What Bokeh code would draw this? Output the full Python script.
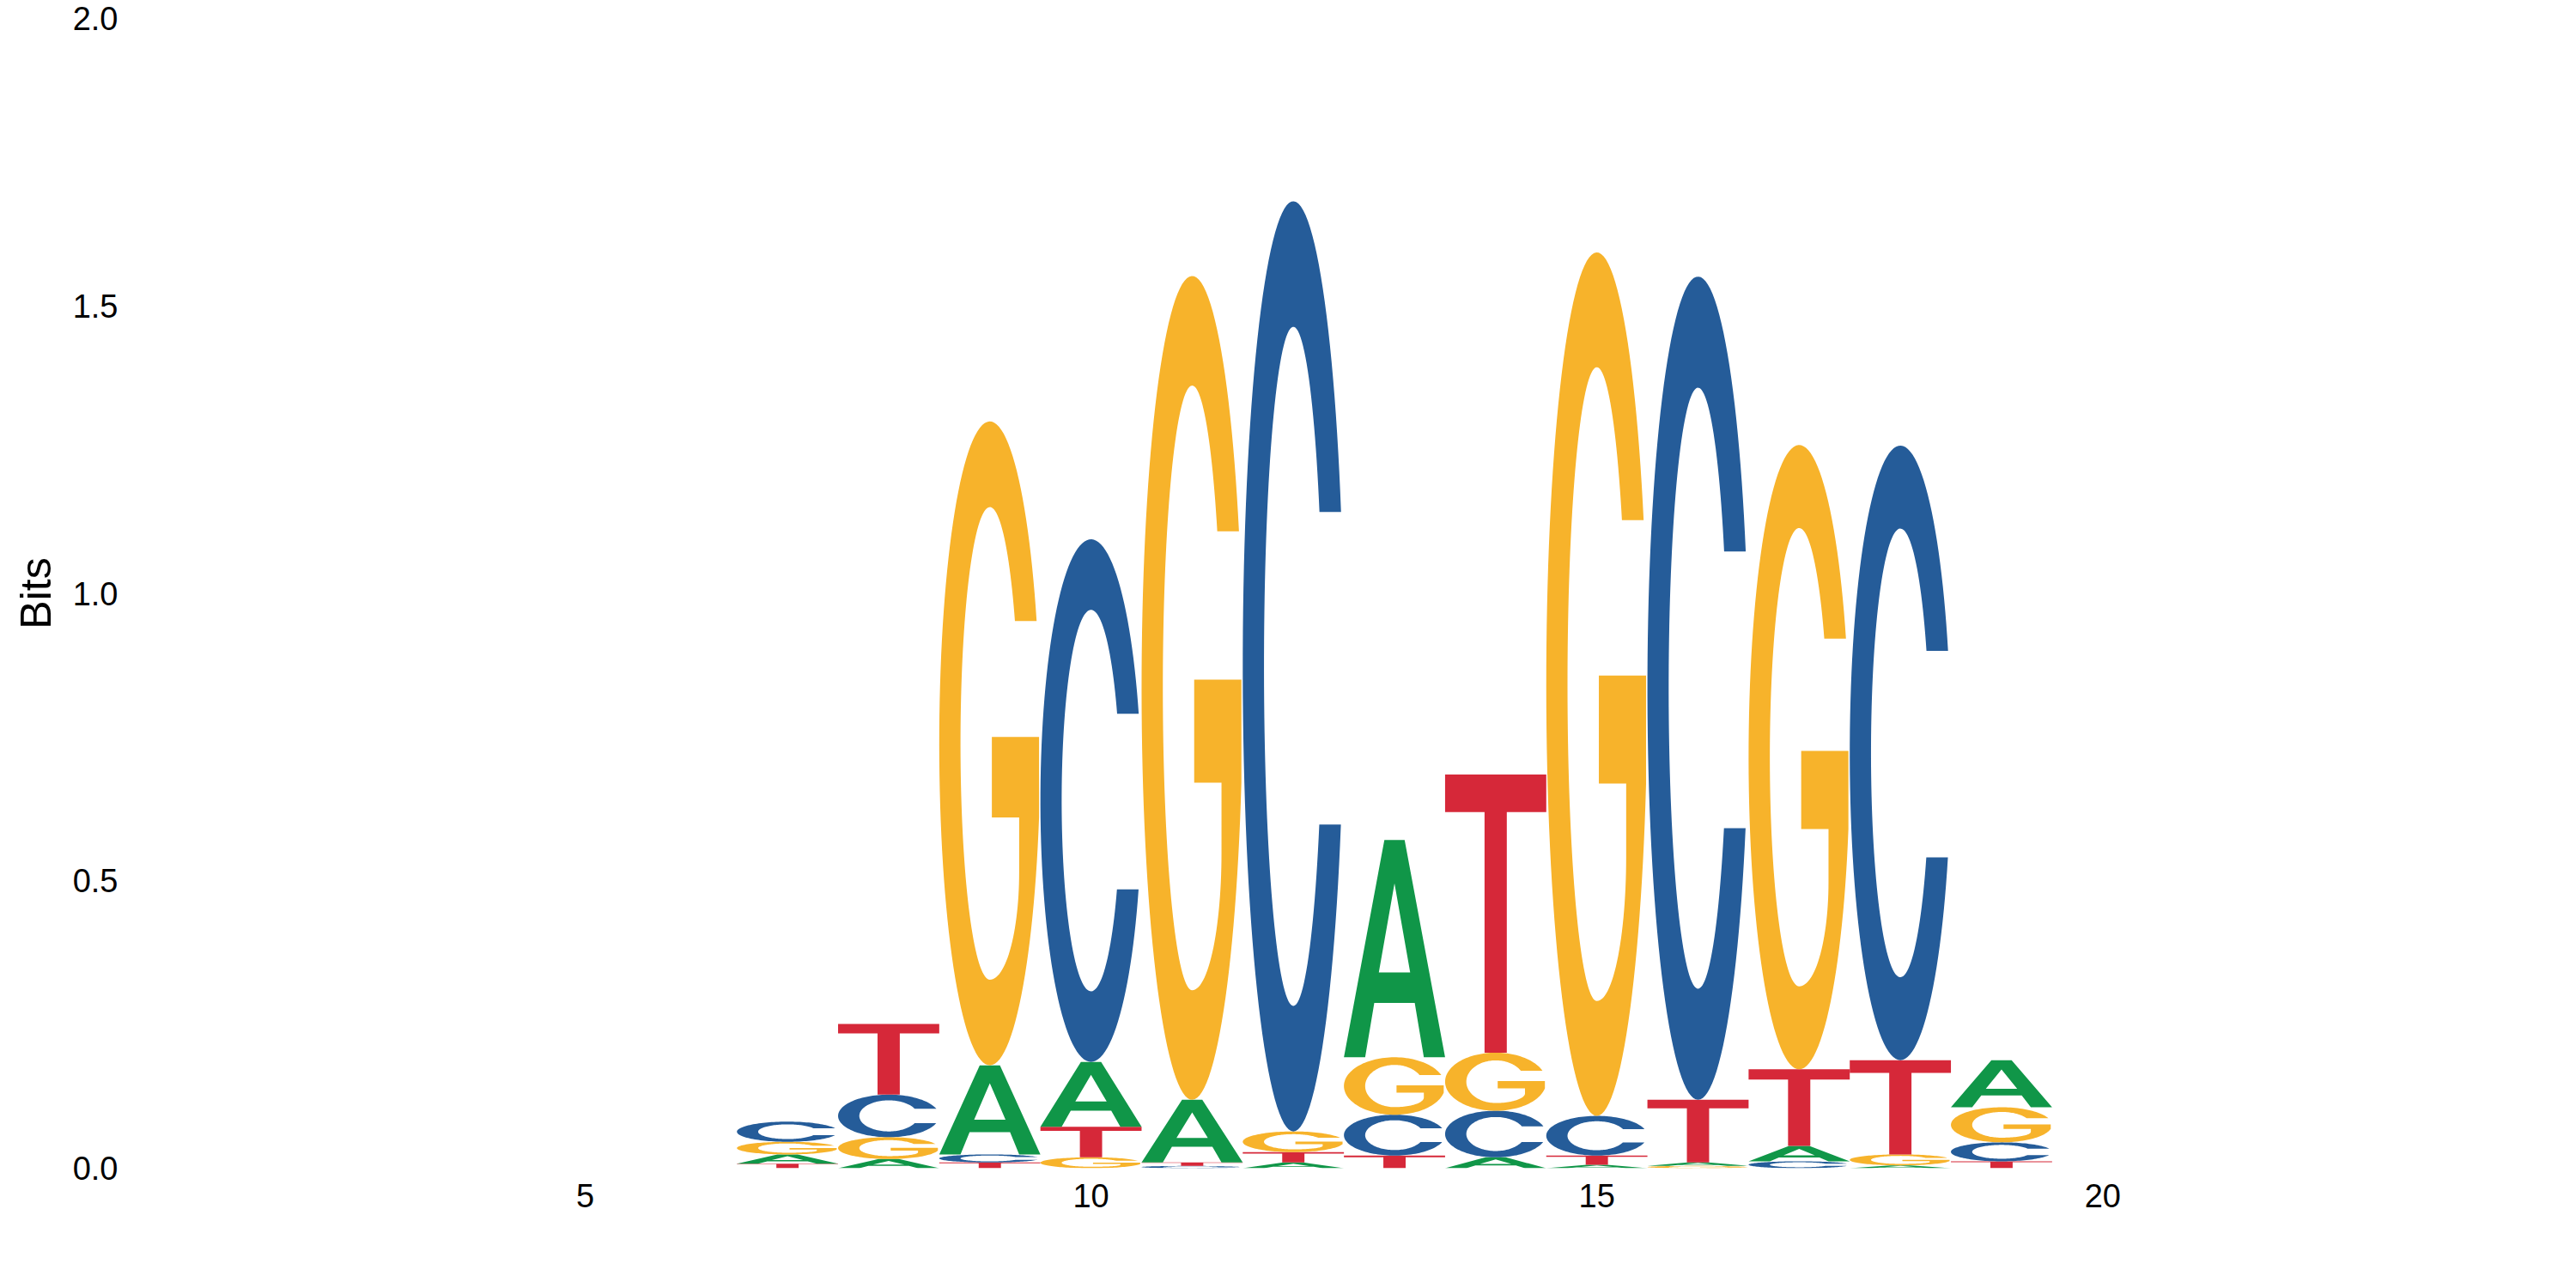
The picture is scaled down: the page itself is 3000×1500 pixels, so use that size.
import numpy as np
from bokeh.plotting import figure
from bokeh.models import ColumnDataSource, FixedTicker, NumeralTickFormatter
from bokeh.embed import file_html
from bokeh.resources import INLINE

# information content (bits) per position and base
positions = [7, 8, 9, 10, 11, 12, 13, 14, 15, 16, 17, 18, 19]
bits_A = [0.016, 0.016, 0.155, 0.113, 0.109, 0.010, 0.378, 0.019, 0.006, 0.006, 0.027, 0.005, 0.082]
bits_C = [0.035, 0.074, 0.014, 0.909, 0.004, 1.618, 0.071, 0.081, 0.069, 1.432, 0.012, 1.069, 0.033]
bits_G = [0.022, 0.038, 1.120, 0.019, 1.433, 0.036, 0.100, 0.101, 1.502, 0.004, 1.086, 0.019, 0.061]
bits_T = [0.008, 0.123, 0.010, 0.053, 0.006, 0.018, 0.022, 0.484, 0.016, 0.109, 0.133, 0.164, 0.012]

x_ticks = [5, 10, 15, 20]
y_ticks = [0, 0.5, 1.0, 1.5, 2.0]

colors = {"A": "#109648", "C": "#255C99", "G": "#F7B32B", "T": "#D62839"}


def arc(cx, cy, rx, ry, a0, a1, n=80):
    t = np.radians(np.linspace(a0, a1, n))
    return list(cx + rx * np.cos(t)), list(cy + ry * np.sin(t))


def deg_on_right(y, cy, ry):
    return np.degrees(np.arcsin((y - cy) / ry))


# letter outlines in a unit box, as rings (first = outline, rest = holes)
def letter_C():
    top, bot = 0.666, 0.33
    ox, oy = arc(0.5, 0.5, 0.5, 0.5, deg_on_right(top, 0.5, 0.5), 360 + deg_on_right(bot, 0.5, 0.5), 120)
    ix, iy = arc(0.5, 0.5, 0.29, 0.365, 360 + deg_on_right(bot, 0.5, 0.365), deg_on_right(top, 0.5, 0.365), 120)
    return [(ox + ix, oy + iy)]


def letter_G():
    top, bar_top, bar_bot, bar_left, stem_x = 0.69, 0.51, 0.385, 0.52, 0.79
    ox, oy = arc(0.5, 0.5, 0.5, 0.5, deg_on_right(top, 0.5, 0.5), 360 + deg_on_right(bar_bot, 0.5, 0.5), 120)
    xs = ox + [ox[-1], bar_left, bar_left, stem_x]
    ys = oy + [bar_top, bar_top, bar_bot, bar_bot]
    sx, sy = arc(0.5, 0.30, 0.29, 0.167, 0, -90, 30)
    ix, iy = arc(0.5, 0.5, 0.29, 0.367, 270, deg_on_right(top, 0.5, 0.367), 100)
    return [(xs + sx + ix, ys + sy + iy)]


def letter_T():
    b = 0.865
    return [([0, 1, 1, 0.61, 0.61, 0.39, 0.39, 0], [1, 1, b, b, 0, 0, b, b])]


def letter_A():
    outer = ([0, 0.40, 0.60, 1, 0.79, 0.70, 0.30, 0.21], [0, 1, 1, 0, 0, 0.25, 0.25, 0])
    hole = ([0.345, 0.655, 0.5], [0.39, 0.39, 0.80])
    return [outer, hole]


shapes = {"A": letter_A(), "C": letter_C(), "G": letter_G(), "T": letter_T()}
table = {"A": bits_A, "C": bits_C, "G": bits_G, "T": bits_T}

xs, ys, fills = [], [], []
for i, pos in enumerate(positions):
    stack = sorted(((table[b][i], b) for b in "ACGT"), key=lambda t: t[0])
    base = 0.0
    for h, b in stack:
        if h > 0:
            rings_x = [[pos - 0.5 + u for u in rx] for rx, ry in shapes[b]]
            rings_y = [[base + v * h for v in ry] for rx, ry in shapes[b]]
            xs.append([rings_x])
            ys.append([rings_y])
            fills.append(colors[b])
        base += h

src = ColumnDataSource(dict(xs=xs, ys=ys, color=fills))

p = figure(frame_width=2843, frame_height=1339, x_range=(0.4, 24.53), y_range=(0, 2),
           output_backend="svg", toolbar_location=None,
           min_border_left=139, min_border_top=21, min_border_right=2, min_border_bottom=70)
p.multi_polygons("xs", "ys", source=src, fill_color="color", line_color=None)

p.outline_line_color = None
p.xgrid.visible = False
p.ygrid.visible = False
p.background_fill_color = "white"
p.border_fill_color = "white"

p.xaxis.ticker = FixedTicker(ticks=x_ticks)
p.yaxis.ticker = FixedTicker(ticks=y_ticks)
p.yaxis.formatter = NumeralTickFormatter(format="0.0")
for ax in (p.xaxis, p.yaxis):
    ax.axis_line_color = None
    ax.major_tick_line_color = None
    ax.minor_tick_line_color = None
    ax.major_tick_out = 0
    ax.major_tick_in = 0
    ax.major_label_text_font = "Liberation Sans"
    ax.major_label_text_font_size = "38px"
    ax.major_label_text_color = "black"
p.xaxis.major_label_standoff = 18
p.yaxis.major_label_standoff = 2
p.yaxis.axis_label = "Bits"
p.yaxis.axis_label_text_font = "Liberation Sans"
p.yaxis.axis_label_text_font_size = "50px"
p.yaxis.axis_label_text_font_style = "normal"
p.yaxis.axis_label_text_color = "black"
p.yaxis.axis_label_standoff = 12

open("out.html", "w").write(file_html(p, INLINE))
